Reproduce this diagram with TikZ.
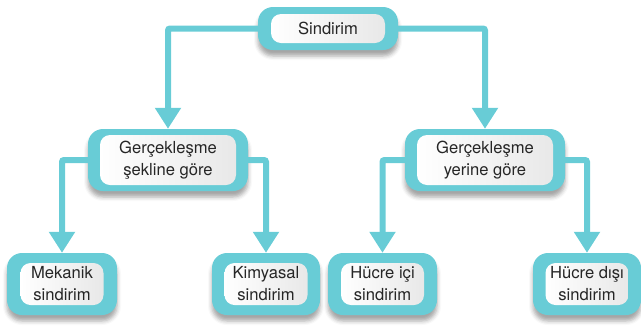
\documentclass[tikz,border=0pt]{standalone}
\usepackage{fontspec}
\setmainfont{TeX Gyre Heros}
\usetikzlibrary{arrows.meta,shadows.blur}
\definecolor{sdteal}{RGB}{104,204,214}
\tikzset{
    outerbox/.style 2 args={rectangle,rounded corners=15pt,fill=sdteal,minimum width=#1,minimum height=#2,inner sep=0pt,
        blur shadow={shadow xshift=0pt,shadow yshift=-6pt,shadow blur radius=4pt,shadow opacity=35}},
    innerbox/.style 2 args={rectangle,rounded corners=10pt,left color=white,right color=black!9,minimum width=#1,minimum height=#2,
        inner sep=0pt,align=center,text=black!85,font=\fontsize{16.6}{22}\selectfont},
    conn/.style={draw=sdteal,line width=6pt,rounded corners=2pt,-{Triangle[width=25pt,length=21pt]}}
}
\begin{document}
\begin{tikzpicture}[x=1pt,y=-1pt]
    \useasboundingbox (0,0) rectangle (641,325);
    % boxes
    \node[outerbox={140pt}{43pt}] (S) at (328,28.5) {};
    \node[innerbox={114pt}{29pt}] (Si) at (S.center) {Sindirim};
    \node[outerbox={160pt}{62pt}] (G1) at (168,160) {};
    \node[innerbox={136pt}{50pt}] (G1i) at (G1.center) {Gerçekleşme\\şekline göre};
    \node[outerbox={160pt}{62pt}] (G2) at (485,160) {};
    \node[innerbox={136pt}{50pt}] (G2i) at (G2.center) {Gerçekleşme\\yerine göre};
    \node[outerbox={110pt}{62pt}] (M) at (62,284) {};
    \node[innerbox={83pt}{42pt}] (Mi) at (M.center) {Mekanik\\sindirim};
    \node[outerbox={108pt}{62pt}] (K) at (266,284) {};
    \node[innerbox={83pt}{42pt}] (Ki) at (K.center) {Kimyasal\\sindirim};
    \node[outerbox={109pt}{62pt}] (HI) at (382.5,284) {};
    \node[innerbox={83pt}{42pt}] (HIi) at (HI.center) {Hücre içi\\sindirim};
    \node[outerbox={108pt}{62pt}] (HD) at (587,284) {};
    \node[innerbox={83pt}{42pt}] (HDi) at (HD.center) {Hücre dışı\\sindirim};
    % arrows
    \draw[conn] (S.west) -| (G1.north);
    \draw[conn] (S.east) -| (G2.north);
    \draw[conn] (G1.west) -| (M.north);
    \draw[conn] (G1.east) -| (K.north);
    \draw[conn] (G2.west) -| (HI.north);
    \draw[conn] (G2.east) -| (HD.north);
\end{tikzpicture}
\end{document}
